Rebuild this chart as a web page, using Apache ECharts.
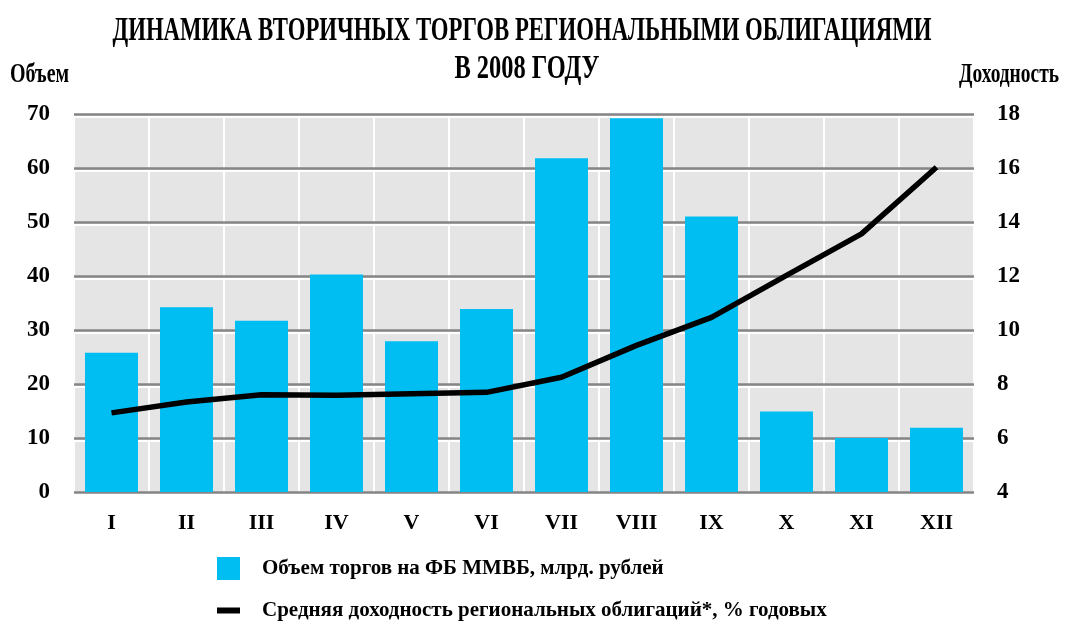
<!DOCTYPE html>
<html>
<head>
<meta charset="utf-8">
<script src="https://cdn.jsdelivr.net/npm/echarts@6/dist/echarts.min.js"></script>
<style>
html,body{margin:0;padding:0;background:#fff;}
#chart_1{width:1074px;height:624px;}
</style>
</head>
<body>
<div id="chart_1"></div>
<script>
var months = ['I', 'II', 'III', 'IV', 'V', 'VI', 'VII', 'VIII', 'IX', 'X', 'XI', 'XII'];
// объем торгов, млрд. рублей
var volume = [25.8, 34.2, 31.7, 40.3, 27.9, 33.9, 61.8, 69.2, 51.0, 14.9, 10.0, 11.9];
// средняя доходность, % годовых
var yieldPct = [6.93, 7.33, 7.6, 7.58, 7.64, 7.69, 8.25, 9.43, 10.47, 12.02, 13.56, 16.03];
var volName = 'Объем торгов на ФБ ММВБ, млрд. рублей';
var yieldName = 'Средняя доходность региональных облигаций*, % годовых';

var font = 'Liberation Serif';
var myChart = echarts.init(document.getElementById('chart_1'));

var option = {
    animation: false,
    graphic: [
        {
            type: 'text', x: 522, y: 15, scaleX: 0.69,
            style: {text: 'ДИНАМИКА ВТОРИЧНЫХ ТОРГОВ РЕГИОНАЛЬНЫМИ ОБЛИГАЦИЯМИ', align: 'center',
                font: 'bold 33px "Liberation Serif"', fill: '#000'}
        },
        {
            type: 'text', x: 527, y: 53, scaleX: 0.74,
            style: {text: 'В 2008 ГОДУ', align: 'center', font: 'bold 33px "Liberation Serif"', fill: '#000'}
        },
        {
            type: 'text', x: 10, y: 62, scaleX: 0.74,
            style: {text: 'Объем', font: 'bold 27px "Liberation Serif"', fill: '#000'}
        },
        {
            type: 'text', x: 1059, y: 62, scaleX: 0.72,
            style: {text: 'Доходность', align: 'right', font: 'bold 27px "Liberation Serif"', fill: '#000'}
        }
    ],
    legend: {
        orient: 'vertical',
        left: 217,
        top: 557,
        padding: 0,
        itemWidth: 23,
        itemHeight: 23,
        itemGap: 20,
        textStyle: {fontFamily: font, fontWeight: 'bold', fontSize: 21, color: '#000', padding: [0, 0, 0, 17]},
        data: [
            {name: volName, icon: 'rect'},
            {name: yieldName, icon: 'path://M0,0H23V6H0Z'}
        ]
    },
    grid: {
        left: 74, top: 114, width: 900, height: 378,
        show: true, backgroundColor: '#e5e5e5', borderWidth: 0
    },
    xAxis: {
        type: 'category',
        data: months,
        axisLine: {show: false},
        axisTick: {show: false},
        axisLabel: {fontFamily: font, fontWeight: 'bold', fontSize: 22, color: '#000', margin: 20},
        splitLine: {show: true, lineStyle: {color: '#ffffff', width: 2}}
    },
    yAxis: [
        {
            type: 'value', min: 0, max: 70, interval: 10, position: 'left',
            axisLine: {show: false}, axisTick: {show: false},
            axisLabel: {fontFamily: font, fontWeight: 'bold', fontSize: 23, color: '#000', margin: 24},
            splitLine: {lineStyle: {color: '#858585', width: 2.5}},
            z: 3
        },
        {
            type: 'value', min: 4, max: 18, interval: 2, position: 'right',
            axisLine: {show: false}, axisTick: {show: false},
            axisLabel: {fontFamily: font, fontWeight: 'bold', fontSize: 23, color: '#000', margin: 23},
            splitLine: {show: false}
        },
        {
            // белая подсветка под линиями сетки
            type: 'value', min: 0.46, max: 70.46, splitNumber: 7, position: 'left',
            axisLine: {show: false}, axisTick: {show: false}, axisLabel: {show: false},
            splitLine: {show: true, showMinLine: false, showMaxLine: false, lineStyle: {color: '#ffffff', width: 2}}
        }
    ],
    series: [
        {
            name: volName,
            type: 'bar',
            data: volume,
            barWidth: 53,
            itemStyle: {color: '#00bdf2'},
            z: 4
        },
        {
            name: yieldName,
            type: 'line',
            yAxisIndex: 1,
            data: yieldPct,
            symbol: 'none',
            lineStyle: {color: '#000', width: 5.5},
            itemStyle: {color: '#000'},
            z: 5
        }
    ]
};

myChart.setOption(option);
window.addEventListener('resize', function () {
    myChart.resize();
});
</script>
</body>
</html>
